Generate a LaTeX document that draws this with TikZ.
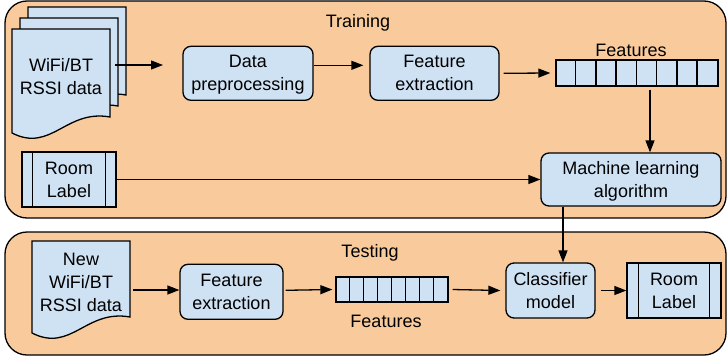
\documentclass[tikz,border=0pt]{standalone}
\usepackage{fontspec}
\setmainfont{Liberation Sans}
\usetikzlibrary{arrows.meta}

\definecolor{panelorange}{HTML}{F9CB9C}
\definecolor{boxblue}{HTML}{CFE2F3}

% one page of a document, wavy bottom: x1, y1, x2, y right end, y left end
\newcommand{\docpage}[5]{%
  \filldraw[page] (#1,#2) -- (#3,#2) -- (#3,#4)
    .. controls ({#1+0.55*(#3-#1)},{#4-8}) and ({#1+0.4*(#3-#1)},{#5+20}) .. (#1,#5) -- cycle;}

\tikzset{
  txt/.style={font=\fontsize{18}{23}\selectfont, align=center, inner sep=0pt},
  panel/.style={draw, line width=1.3pt, fill=panelorange, rounded corners=22pt},
  page/.style={draw, line width=1.3pt, fill=boxblue},
  proc/.style={txt, text depth=0pt, draw, line width=1.3pt, fill=boxblue, rounded corners=8pt},
  lblbox/.style={txt, text depth=0pt, draw, line width=1.3pt, fill=boxblue},
  featbar/.style={draw, line width=1.3pt, fill=boxblue, inner sep=0pt},
  arr/.style={line width=1.3pt, -{Triangle[length=12pt,width=9pt]}},
}

\begin{document}
\begin{tikzpicture}[x=1pt, y=-1pt]

\useasboundingbox (0,0) rectangle (728,359);

% the two panels
\draw[panel] (5,1) rectangle (726,218);
\draw[panel] (5,232) rectangle (726,355);
\node[txt] (train) at (358,22.5) {Training};
\node[txt] (test) at (370,253) {Testing};

% training: stack of RSSI pages
\docpage{28}{7}{126}{95}{111}
\docpage{20}{18}{118}{106}{122}
\docpage{12}{29}{110}{117}{133}
\node[txt] (rssi) at (61,77) {WiFi/BT\\RSSI data};
\coordinate (rssiout) at (115,65);
\coordinate (rssiin) at (163,65);

\node[proc, minimum width=130pt, minimum height=54pt] (dp) at (248,73.3) {Data\\preprocessing};
\node[proc, minimum width=129pt, minimum height=54pt] (fe) at (434.5,73.3) {Feature\\extraction};

% feature vector, 8 cells
\node[featbar, minimum width=162pt, minimum height=26pt] (feat) at (637,73) {};
\foreach \i in {1,...,7}
  \draw[line width=1.3pt] ([xshift=\i*20.25pt]feat.north west) -- ([xshift=\i*20.25pt]feat.south west);
\node[txt] (featlbl) at (631,50.5) {Features};

\node[proc, minimum width=180pt, minimum height=53pt] (ml) at (631,179.5) {Machine learning\\algorithm};

% room label with side bars
\node[lblbox, minimum width=94pt, minimum height=55pt] (rl) at (69,179.5) {Room\\Label};
\draw[line width=1.3pt] ([xshift=11pt]rl.north west) -- ([xshift=11pt]rl.south west);
\draw[line width=1.3pt] ([xshift=-11pt]rl.north east) -- ([xshift=-11pt]rl.south east);

% training arrows
\draw[arr] (rssiout) -- (rssiin);
\draw[arr] ([yshift=8pt]dp.east) -- ([xshift=-6pt,yshift=8pt]fe.west);
\draw[arr] ([xshift=4pt]fe.east) -- ([xshift=-5pt]feat.west);
\draw[arr] ([xshift=13pt,yshift=-3pt]feat.south) -- ([xshift=19pt]ml.north);
\draw[arr] (rl.east) -- (rl.east -| ml.west);

% testing: new RSSI page
\docpage{32}{241}{130}{317}{333}
\node[txt] (newrssi) at (81,282.5) {New\\WiFi/BT\\RSSI data};
\coordinate (newout) at (133,290);

\node[proc, minimum width=103pt, minimum height=55pt] (fe2) at (231.5,291.8) {Feature\\extraction};

% feature vector, 8 cells
\node[featbar, minimum width=112pt, minimum height=25pt] (feat2) at (392,289.5) {};
\foreach \i in {1,...,7}
  \draw[line width=1.3pt] ([xshift=\i*14pt]feat2.north west) -- ([xshift=\i*14pt]feat2.south west);
\node[txt] (feat2lbl) at (386,321.5) {Features};

\node[proc, minimum width=89pt, minimum height=55pt] (cls) at (550.5,290.5) {Classifier\\model};

\node[lblbox, minimum width=94pt, minimum height=55pt] (rl2) at (674,290.5) {Room\\Label};
\draw[line width=1.3pt] ([xshift=12pt]rl2.north west) -- ([xshift=12pt]rl2.south west);
\draw[line width=1.3pt] ([xshift=-12pt]rl2.north east) -- ([xshift=-12pt]rl2.south east);

% testing arrows
\draw[arr] (newout) -- (newout -| fe2.west);
\draw[arr] ([xshift=2pt,yshift=1.5pt]fe2.east) -- ([xshift=-3pt]feat2.west);
\draw[arr] ([xshift=4pt]feat2.east) -- ([xshift=-5pt]cls.west);
\draw[arr] ([xshift=-68pt]ml.south) -- ([xshift=12.5pt]cls.north);
\draw[arr] ([xshift=5pt]cls.east) -- (rl2.west);

\end{tikzpicture}
\end{document}
